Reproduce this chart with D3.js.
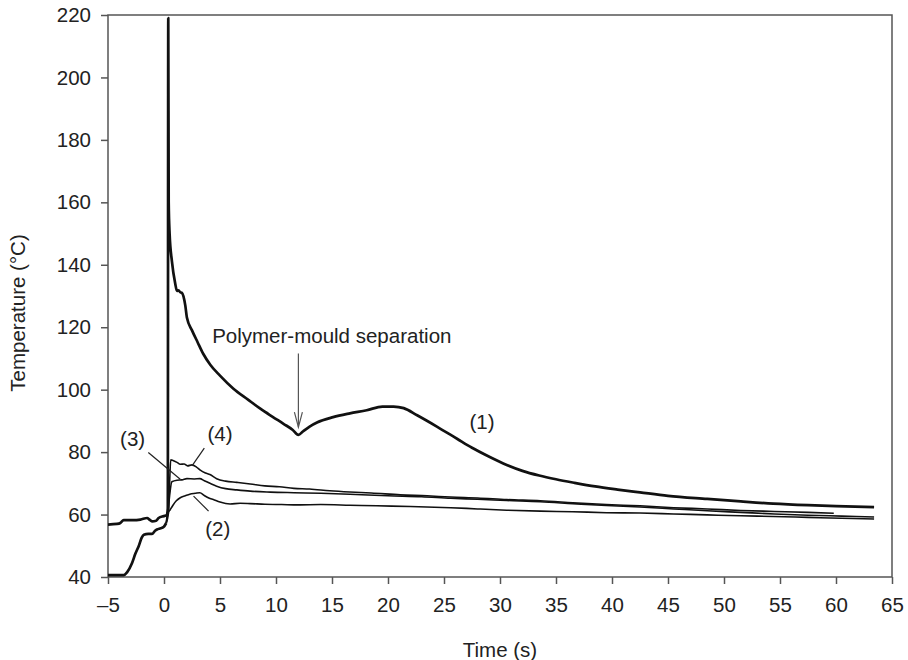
<!DOCTYPE html>
<html>
<head>
<meta charset="utf-8">
<script src="https://cdn.jsdelivr.net/npm/d3@7"></script>
<style>
    body { margin: 0; background: #fff; }
    text { font-family: "Liberation Sans", Arial, sans-serif; fill: #222; }
</style>
</head>
<body>
<script>
// time (s), temperature (°C)
const curve1 = [
    [-5, 56.8], [-4.2, 57.0], [-3.9, 57.3], [-3.6, 58.2], [-2.8, 58.2], [-2.1, 58.4],
    [-1.5, 58.9], [-1.3, 58.4], [-1.07, 57.8], [-0.7, 58.0], [-0.48, 58.9], [-0.04, 59.5],
    [0.25, 59.8], [0.34, 62], [0.38, 219], [0.42, 160], [0.5, 150], [0.71, 141],
    [1.0, 134], [1.16, 131.6], [1.3, 131.8], [1.45, 131.2], [1.6, 131], [1.9, 127],
    [2.05, 123], [2.5, 119], [3.0, 115.2], [3.5, 111.5], [4.13, 108], [5, 104.5],
    [6.2, 100.3], [7.5, 96.8], [8.6, 93.9], [9.7, 91.3], [10.7, 89], [11.5, 87.1],
    [12.0, 85.5], [12.4, 86.6], [13, 88.2], [13.66, 89.5], [15.1, 91.2], [16.6, 92.4],
    [18.1, 93.4], [19.5, 94.6], [20.5, 94.6], [21.4, 94.1], [22.6, 91.8], [24.4, 88.1],
    [26.2, 84.2], [27.5, 81.4], [29, 78.6], [30.6, 75.9], [32, 74], [33.5, 72.5],
    [35, 71.3], [36.6, 70.2], [38.5, 69], [40.5, 68], [42.5, 67.1], [45, 66],
    [48.5, 65], [51.5, 64.2], [54.4, 63.5], [57.5, 63], [60, 62.7], [63.4, 62.4]
];

const preInjection = [
    [-5, 40.6], [-4.2, 40.6], [-3.6, 40.6], [-3.3, 41.5], [-2.86, 44.4], [-2.55, 47.5],
    [-2.27, 49.8], [-2.0, 52.5], [-1.8, 53.5], [-1.4, 53.8], [-1.07, 53.8], [-0.8, 54.8],
    [-0.63, 55.2], [-0.3, 55.6], [-0.04, 56], [0.2, 57.3]
];

const curve2 = [
    [0.2, 57.3], [0.3, 60], [0.56, 61.6], [0.8, 63], [1.1, 64.4], [1.45, 65.4], [1.9, 66],
    [2.3, 66.5], [2.8, 66.8], [3.2, 67], [3.6, 66.1], [4.0, 65.3], [4.4, 64.8], [5.0, 64],
    [5.9, 63.4], [6.8, 63.6], [7.7, 63.5], [9, 63.3], [10.5, 63.2], [12, 63.1], [14, 63.2],
    [16.6, 63], [19, 62.8], [22, 62.6], [25.6, 62.2], [28, 61.8], [30.6, 61.4], [33.6, 61.1],
    [36.5, 60.9], [39.5, 60.6], [42.5, 60.5], [45.5, 60.2], [48.5, 59.9], [51.5, 59.6],
    [54.4, 59.4], [57.5, 59.1], [60.5, 58.8], [63.4, 58.6]
];

const curve3 = [
    [0.2, 57.3], [0.35, 60.5], [0.5, 66], [0.7, 70.5], [1.16, 71.0], [1.6, 71.1], [2.05, 71.5],
    [2.7, 71.4], [3.2, 71.5], [3.6, 70.8], [4.1, 70], [4.7, 69.1], [5.5, 68.3], [6.5, 67.9],
    [7.7, 67.5], [9.5, 67.2], [11.6, 67], [14, 66.8], [16.6, 66.5], [20, 66], [23, 65.7],
    [25.6, 65.2], [28, 64.9], [30.6, 64.5], [33.6, 64.1], [36.5, 63.5], [39.5, 62.9],
    [42.5, 62.4], [45.5, 61.8], [48.5, 61.2], [51.5, 60.7], [54.5, 60.2], [57.5, 59.8],
    [60.5, 59.5], [63.4, 59.2]
];

const curve4 = [
    [0.2, 57.3], [0.4, 60.5], [0.5, 70], [0.6, 77.5], [0.8, 77.3], [1.16, 76.7], [1.45, 76.1],
    [1.8, 76.2], [2.1, 75.6], [2.5, 75.9], [2.9, 75.2], [3.24, 74.2], [3.7, 73.3], [4.1, 72.8],
    [4.7, 71.5], [5.5, 70.7], [6.5, 70.3], [7.7, 69.8], [9, 69.2], [10.3, 68.9], [11.6, 68.4],
    [13, 68.2], [14.8, 67.6], [16.6, 67.2], [18.5, 66.9], [21.1, 66.3], [23.5, 66.0],
    [25.6, 65.6], [28, 65.3], [30.6, 64.8], [33.6, 64.4], [36.5, 63.8], [39.5, 63.2],
    [42.5, 62.8], [45.5, 62.2], [48.5, 61.8], [51.5, 61.3], [54.5, 61.0], [57.5, 60.7],
    [59.8, 60.4]
];

const xTicks = d3.range(-5, 66, 5);
const yTicks = d3.range(40, 221, 20);

// curve labels: text, position of label, leader line (data coords)
const curveLabels = [
    { text: '(1)', at: [28.4, 89.7], leader: null },
    { text: '(3)', at: [-2.8, 84.2], leader: [[-1.4, 79.9], [1.45, 71.3]] },
    { text: '(4)', at: [5.0, 85.8], leader: [[3.6, 81.3], [2.5, 75.6]] },
    { text: '(2)', at: [4.8, 55.5], leader: [[2.64, 65.9], [3.98, 61.1]] }
];

const separation = { text: 'Polymer-mould separation', at: [4.3, 114.8], arrow: [[12, 111.6], [12, 88]] };

const chartFactory = () => {
    const margin = { top: 15, right: 16, bottom: 83, left: 108 };
    const width = 908 - margin.left - margin.right;
    const height = 660 - margin.top - margin.bottom;
    const svg = d3.select('body').append('svg')
        .attr('width', 908)
        .attr('height', 660);
    const container = svg.append('g')
        .attr('transform', `translate(${margin.left}, ${margin.top})`);
    return { svg, container, width, height, margin };
};

const chart = chartFactory();

(function drawChart(enabled) {
    if (enabled) {
        const x = d3.scaleLinear().domain([-5, 65]).range([0, chart.width]);
        const y = d3.scaleLinear().domain([40, 220]).range([chart.height, 0]);
        const fmt = d => (d < 0 ? '\u2013' + Math.abs(d) : '' + d);

        const xAxis = chart.container.append('g')
            .attr('transform', `translate(0, ${chart.height})`)
            .call(d3.axisBottom(x).tickValues(xTicks).tickFormat(fmt)
                .tickSizeInner(7).tickSizeOuter(0).tickPadding(13));
        const yAxis = chart.container.append('g')
            .call(d3.axisLeft(y).tickValues(yTicks).tickFormat(fmt)
                .tickSizeInner(7).tickSizeOuter(0).tickPadding(10));

        [xAxis, yAxis].forEach(ax => {
            ax.select('.domain').remove();
            ax.selectAll('line').attr('stroke', '#555').attr('stroke-width', 1.5);
            ax.selectAll('text').style('font-size', '20.5px').attr('fill', '#222');
        });

        // frame
        chart.container.append('rect')
            .attr('width', chart.width)
            .attr('height', chart.height)
            .attr('fill', 'none')
            .attr('stroke', '#555')
            .attr('stroke-width', 1.5);

        const line = d3.line().x(d => x(d[0])).y(d => y(d[1]));
        const smooth = d3.line().x(d => x(d[0])).y(d => y(d[1])).curve(d3.curveMonotoneX);

        const drawSingle = (data, w) => chart.container.append('path')
            .datum(data)
            .attr('d', smooth)
            .attr('fill', 'none')
            .attr('stroke', '#111')
            .attr('stroke-width', w)
            .attr('stroke-linejoin', 'round');

        drawSingle(curve2, 1.6);
        drawSingle(curve3, 1.6);
        drawSingle(curve4, 1.6);
        drawSingle(preInjection, 2.7);
        drawSingle(curve1, 2.7);

        // curve labels with leader lines
        curveLabels.forEach(l => {
            chart.container.append('text')
                .attr('x', x(l.at[0]))
                .attr('y', y(l.at[1]))
                .attr('dy', '0.35em')
                .attr('text-anchor', 'middle')
                .style('font-size', '20.5px')
                .text(l.text);
            if (l.leader) {
                chart.container.append('path')
                    .attr('d', line(l.leader))
                    .attr('stroke', '#222')
                    .attr('stroke-width', 1.2);
            }
        });

        // separation annotation
        chart.container.append('text')
            .attr('x', x(separation.at[0]))
            .attr('y', y(separation.at[1]))
            .style('font-size', '20.5px')
            .text(separation.text);

        const [a0, a1] = separation.arrow;
        const tipX = x(a1[0]);
        const tipY = y(a1[1]);
        chart.container.append('line')
            .attr('x1', x(a0[0])).attr('y1', y(a0[1]))
            .attr('x2', tipX).attr('y2', tipY)
            .attr('stroke', '#555')
            .attr('stroke-width', 1.2);
        chart.container.append('path')
            .attr('d', `M${tipX - 4},${tipY - 15} L${tipX},${tipY} L${tipX + 4},${tipY - 15}`)
            .attr('fill', 'none')
            .attr('stroke', '#555')
            .attr('stroke-width', 1.2);

        // axis titles
        chart.svg.append('text')
            .attr('x', chart.margin.left + chart.width / 2)
            .attr('y', 657)
            .attr('text-anchor', 'middle')
            .style('font-size', '20.5px')
            .text('Time (s)');
        chart.svg.append('text')
            .attr('transform', `translate(25, ${chart.margin.top + 298}) rotate(-90)`)
            .attr('text-anchor', 'middle')
            .style('font-size', '20.5px')
            .text('Temperature (\u00B0C)');
    }
}(true));
</script>
</body>
</html>
